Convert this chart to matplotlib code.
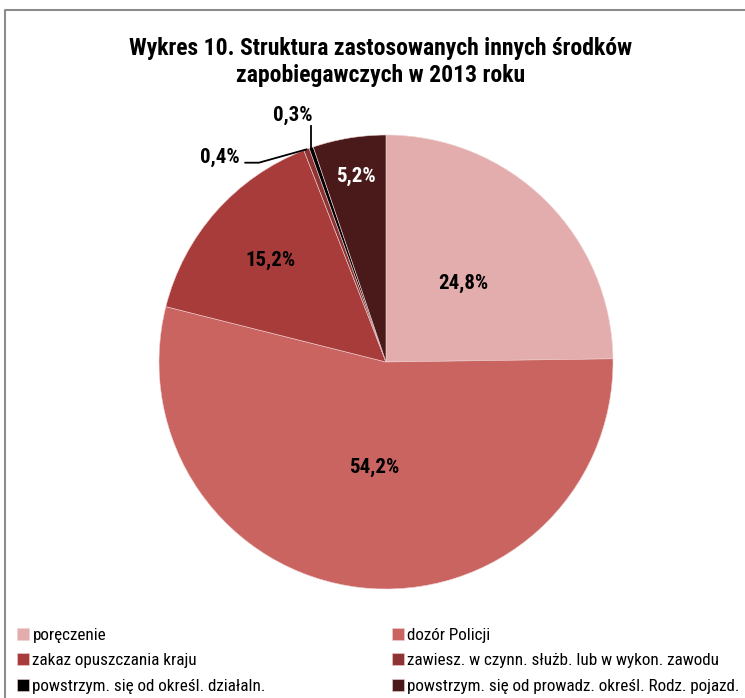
import matplotlib
matplotlib.use("Agg")
import matplotlib.pyplot as plt
from matplotlib import font_manager
from matplotlib.lines import Line2D
import numpy as np

categories = [
    "poręczenie",
    "dozór Policji",
    "zakaz opuszczania kraju",
    "zawiesz. w czynn. służb. lub w wykon. zawodu",
    "powstrzym. się od określ. działaln.",
    "powstrzym. się od prowadz. określ. Rodz. pojazd.",
]
shares = [24.8, 54.2, 15.2, 0.4, 0.3, 5.2]
colors = ["#E3ADAD", "#C96461", "#A83C3B", "#8E3434", "#000000", "#4A1A1A"]


def weight_of(entry):
    w = entry.weight
    if isinstance(w, str):
        w = font_manager.weight_dict.get(w, 400)
    return int(w)


# pick a condensed family that also has a bold face (the original uses Arial Narrow)
narrow = {}
for f in font_manager.fontManager.ttflist:
    if "Narrow" in f.name or "Condensed" in f.name:
        narrow.setdefault(f.name, set()).add(weight_of(f))
preferred = ["Liberation Sans Narrow", "Arial Narrow", "Roboto Condensed",
             "Noto Sans Condensed", "Open Sans Condensed", "DejaVu Sans Condensed"]
with_bold = [n for n in preferred if n in narrow and max(narrow[n]) >= 700]
with_bold += sorted(n for n in narrow if max(narrow[n]) >= 700 and n not in with_bold)
plt.rcParams["font.family"] = with_bold[:1] + ["Liberation Sans", "DejaVu Sans"]

W, H = 745, 698
fig = plt.figure(figsize=(W / 100, H / 100), dpi=100)

# grey chart-area frame
fig.add_artist(Line2D([5 / W, 5 / W, 1.0], [0.0, 1 - 10 / H, 1 - 10 / H],
                      transform=fig.transFigure, color="#8c8c8c", lw=1.5))

fig.text(381 / W, 1 - 62 / H,
         "Wykres 10. Struktura zastosowanych innych środków\nzapobiegawczych w 2013 roku",
         ha="center", va="center", fontsize=17, fontweight="bold", linespacing=1.2)

cx, cy, r = 386, 362, 227
ax = fig.add_axes([(cx - r) / W, 1 - (cy + r) / H, 2 * r / W, 2 * r / H])
wedges, _ = ax.pie(shares, colors=colors, startangle=90, counterclock=False,
                   radius=1.0, wedgeprops=dict(linewidth=0.4, edgecolor="#f0d0d0"))
ax.set_xlim(-1, 1)
ax.set_ylim(-1, 1)
ax.set_aspect("equal")
ax.axis("off")

label_dist = [0.486, 0.468, 0.676, None, None, 0.83]
label_color = ["black", "black", "black", "black", "black", "white"]
for i, w in enumerate(wedges):
    if label_dist[i] is None:
        continue
    mid = np.deg2rad((w.theta1 + w.theta2) / 2)
    d = label_dist[i]
    txt = f"{shares[i]:.1f}%".replace(".", ",")
    ax.text(d * np.cos(mid), d * np.sin(mid), txt, ha="center", va="center",
            fontsize=15, fontweight="bold", color=label_color[i])

# leader-line labels for the tiny slices
m3 = np.deg2rad((wedges[3].theta1 + wedges[3].theta2) / 2)
ax.plot([-0.62, -0.56, np.cos(m3)], [0.878, 0.878, np.sin(m3)], color="black", lw=1.3)
ax.text(-0.73, 0.903, f"{shares[3]:.1f}%".replace(".", ","),
        ha="center", va="center", fontsize=15, fontweight="bold")

m4 = np.deg2rad((wedges[4].theta1 + wedges[4].theta2) / 2)
ax.plot([np.cos(m4)] * 2, [np.sin(m4), 1.04], color="black", lw=1.3)
ax.text(-0.41, 1.088, f"{shares[4]:.1f}%".replace(".", ","),
        ha="center", va="center", fontsize=15, fontweight="bold")
for a in ax.lines + ax.texts:
    a.set_clip_on(False)

# legend laid out row-wise in two columns, like the original
leg_kw = dict(loc="upper left", frameon=False, fontsize=12.3, handlelength=0.7,
              handleheight=0.7, handletextpad=0.2, labelspacing=0.6,
              borderaxespad=0.0, borderpad=0.0)
left = [0, 2, 4]
right = [1, 3, 5]
fig.legend([wedges[i] for i in left], [categories[i] for i in left],
           bbox_to_anchor=(17 / W, 1 - 628 / H), **leg_kw)
fig.legend([wedges[i] for i in right], [categories[i] for i in right],
           bbox_to_anchor=(392 / W, 1 - 628 / H), **leg_kw)

fig.savefig("out.png", dpi=100)
